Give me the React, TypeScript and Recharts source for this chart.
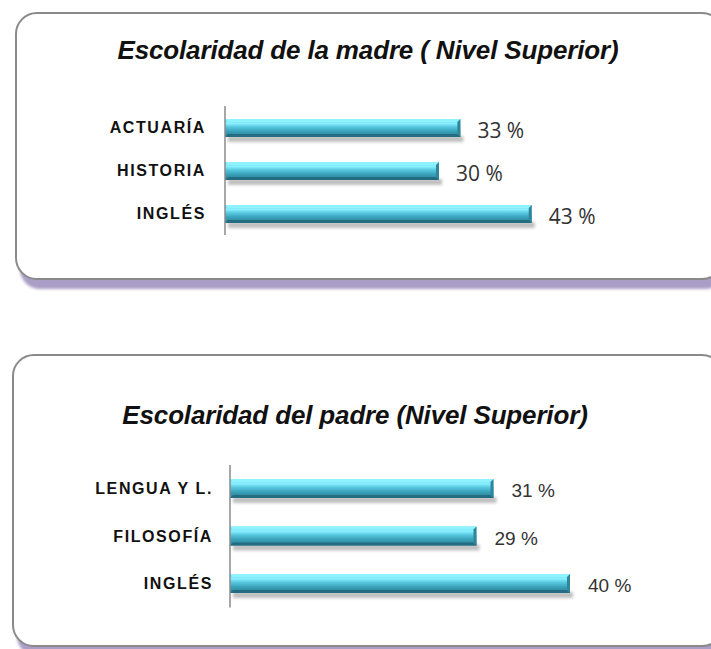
import React from 'react';
import { BarChart, Bar, XAxis, YAxis, LabelList } from 'recharts';

const madreCategorias = ['ACTUARÍA', 'HISTORIA', 'INGLÉS'];
const madreValores = [33, 30, 43];
const padreCategorias = ['LENGUA Y L.', 'FILOSOFÍA', 'INGLÉS'];
const padreValores = [31, 29, 40];

const madreData = madreCategorias.map((name, i) => ({ name, value: madreValores[i] }));
const padreData = padreCategorias.map((name, i) => ({ name, value: padreValores[i] }));

// glossy cyan bar with bevelled edges and a soft shadow below
const BevelBar = (props: any) => {
  const { x, y, width, height } = props;
  if (!width || width <= 0) return null;
  const b = 3;
  return (
    <g>
      <rect x={x + 3} y={y + height - 1} width={width} height={6} fill="#000" opacity={0.25} filter="url(#barShadow)" />
      <rect x={x} y={y} width={width} height={height} fill="url(#barGrad)" />
      <polygon points={`${x},${y} ${x + width},${y} ${x + width - b},${y + b} ${x + b},${y + b}`} fill="#8ff3ff" />
      <polygon
        points={`${x},${y + height} ${x + width},${y + height} ${x + width - b},${y + height - b} ${x + b},${y + height - b}`}
        fill="#246c7f"
      />
      <polygon
        points={`${x + width},${y} ${x + width},${y + height} ${x + width - b},${y + height - b} ${x + width - b},${y + b}`}
        fill="#2f8599"
      />
    </g>
  );
};

const Defs = () => (
  <defs>
    <linearGradient id="barGrad" x1="0" y1="0" x2="0" y2="1">
      <stop offset="0%" stopColor="#66dcf0" />
      <stop offset="25%" stopColor="#8aefff" />
      <stop offset="45%" stopColor="#55c6de" />
      <stop offset="70%" stopColor="#389fb8" />
      <stop offset="100%" stopColor="#2b8097" />
    </linearGradient>
    <filter id="barShadow" x="-5%" y="-100%" width="110%" height="300%">
      <feGaussianBlur stdDeviation="1.5" />
    </filter>
  </defs>
);

const boxStyle: React.CSSProperties = {
  position: 'absolute',
  border: '2px solid #8a8a8a',
  borderRadius: 22,
  background: '#fff',
  boxShadow: '3px 11px 3px -2px #aa9ec6',
};

const titleStyle: React.CSSProperties = {
  position: 'absolute',
  textAlign: 'center',
  fontFamily: '"Liberation Sans", Arial, sans-serif',
  fontWeight: 'bold',
  fontStyle: 'italic',
  fontSize: 26,
  letterSpacing: -0.15,
  color: '#111',
  lineHeight: '30px',
};

const tickStyle = {
  fontFamily: '"Liberation Sans", Arial, sans-serif',
  fontWeight: 'bold',
  fontSize: 16,
  fill: '#111',
  letterSpacing: 1.6,
};

export default function App() {
  return (
    <div style={{ position: 'fixed', left: 0, top: 0, width: 711, height: 649, overflow: 'hidden', background: '#fff' }}>
      <div style={{ ...boxStyle, left: 15, top: 12, width: 705, height: 264 }} />
      <div style={{ ...boxStyle, left: 12, top: 354, width: 708, height: 289 }} />

      <div style={{ ...titleStyle, left: 0, top: 35, width: 736 }}>Escolaridad de la madre ( Nivel Superior)</div>
      <div style={{ ...titleStyle, left: 0, top: 400, width: 710 }}>Escolaridad del padre (Nivel Superior)</div>

      <div style={{ position: 'absolute', left: 0, top: 0 }}>
        <BarChart
          width={711}
          height={300}
          data={madreData}
          layout="vertical"
          margin={{ top: 106, right: 58, bottom: 65, left: 25 }}
        >
          <Defs />
          <XAxis type="number" domain={[0, 60]} hide />
          <YAxis
            type="category"
            dataKey="name"
            width={200}
            tickSize={0}
            tickMargin={19}
            axisLine={{ stroke: '#8a8a8a', strokeWidth: 1.5 }}
            tickLine={false}
            tick={tickStyle}
          />
          <Bar dataKey="value" barSize={18} shape={<BevelBar />} isAnimationActive={false}>
            <LabelList
              dataKey="value"
              position="right"
              offset={17}
              formatter={(v: any) => `${v} %`}
              style={{ fontFamily: '"Open Sans", sans-serif', fontSize: 21, fill: '#333' }}
              dy={3}
            />
          </Bar>
        </BarChart>
      </div>

      <div style={{ position: 'absolute', left: 0, top: 330 }}>
        <BarChart
          width={711}
          height={319}
          data={padreData}
          layout="vertical"
          margin={{ top: 135, right: 56, bottom: 41.5, left: 30 }}
        >
          <Defs />
          <XAxis type="number" domain={[0, 50]} hide />
          <YAxis
            type="category"
            dataKey="name"
            width={200}
            tickSize={0}
            tickMargin={17}
            axisLine={{ stroke: '#8a8a8a', strokeWidth: 1.5 }}
            tickLine={false}
            tick={tickStyle}
          />
          <Bar dataKey="value" barSize={19} shape={<BevelBar />} isAnimationActive={false}>
            <LabelList
              dataKey="value"
              position="right"
              offset={18}
              formatter={(v: any) => `${v} %`}
              style={{ fontFamily: '"Liberation Sans", Arial, sans-serif', fontSize: 19, fill: '#333' }}
              dy={2}
            />
          </Bar>
        </BarChart>
      </div>
    </div>
  );
}
